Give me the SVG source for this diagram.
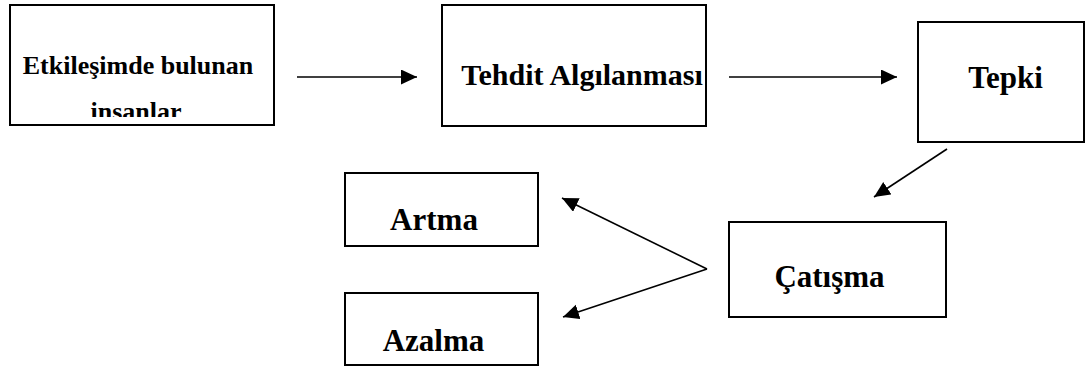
<svg xmlns="http://www.w3.org/2000/svg" width="1086" height="368" viewBox="0 0 1086 368">
  <style>
    .box { fill: #ffffff; stroke: #000000; stroke-width: 2; }
    .lbl { font-family: "Liberation Serif", "Times New Roman", serif; font-weight: bold; fill: #000000; text-anchor: middle; }
    .conn { stroke: #000000; stroke-width: 1.6; fill: none; marker-end: url(#arrow); }
  </style>
  <defs>
    <marker id="arrow" markerUnits="userSpaceOnUse" markerWidth="17" markerHeight="16" refX="16" refY="7.5" orient="auto">
      <path d="M0,0 L16,7.5 L0,15 z" fill="#000000"/>
    </marker>
    <clipPath id="clip1">
      <rect x="11" y="6" width="262" height="111"/>
    </clipPath>
  </defs>
  <rect width="1086" height="368" fill="#ffffff"/>

  <g id="node-etkilesim">
    <rect class="box" x="10" y="5" width="264" height="120"/>
    <g clip-path="url(#clip1)">
      <text class="lbl" x="138" y="74" font-size="26">Etkileşimde bulunan</text>
      <text class="lbl" x="136" y="120" font-size="26">insanlar</text>
    </g>
  </g>

  <g id="node-tehdit">
    <rect class="box" x="442" y="5" width="264" height="121"/>
    <text class="lbl" x="582" y="85" font-size="30">Tehdit Algılanması</text>
  </g>

  <g id="node-tepki">
    <rect class="box" x="918" y="22" width="166" height="120"/>
    <text class="lbl" x="1005.5" y="88" font-size="31">Tepki</text>
  </g>

  <g id="node-catisma">
    <rect class="box" x="729" y="222" width="217" height="95"/>
    <text class="lbl" x="829.5" y="287" font-size="31">Çatışma</text>
  </g>

  <g id="node-artma">
    <rect class="box" x="345" y="173" width="193" height="73"/>
    <text class="lbl" x="434" y="230" font-size="31">Artma</text>
  </g>

  <g id="node-azalma">
    <rect class="box" x="345" y="293" width="193" height="72"/>
    <text class="lbl" x="433.5" y="351" font-size="31">Azalma</text>
  </g>

  <g id="connectors">
    <line class="conn" x1="297" y1="77" x2="417" y2="77"/>
    <line class="conn" x1="729" y1="77" x2="897" y2="77"/>
    <line class="conn" x1="947" y1="149" x2="874" y2="197"/>
    <line class="conn" x1="707" y1="269" x2="562" y2="198"/>
    <line class="conn" x1="707" y1="269" x2="563" y2="317"/>
  </g>
</svg>
